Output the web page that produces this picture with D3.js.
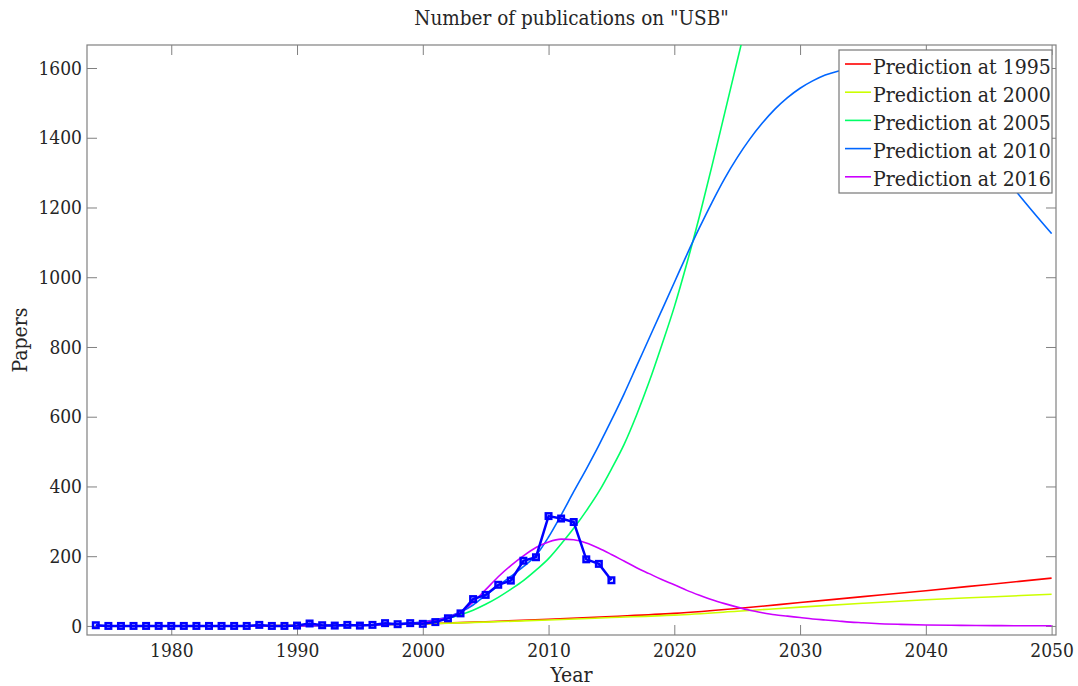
<!DOCTYPE html>
<html>
<head>
<meta charset="utf-8">
<script src="https://cdn.jsdelivr.net/npm/d3@7"></script>
<style>
    body { margin: 0; background: #fff; }
    svg text { font-family: "DejaVu Serif Condensed", "DejaVu Serif", serif; fill: #262626; }
</style>
</head>
<body>
<svg id="chart-svg"></svg>
<script>
// Observed papers per year
var years = d3.range(1974, 2016);
var papers = [2, 0, 0, 0, 0, 0, 0, 0, 0, 0, 0, 0, 0, 3, 0, 0, 1, 7, 2, 1, 3, 1, 3, 8, 5, 8,
    6, 11, 22, 36, 77, 89, 118, 130, 187, 197, 315, 308, 298, 191, 178, 131];

// Prediction curves (year list + values for each)
var years1995 = [1974, 1985, 1990, 1995, 2000, 2005, 2010, 2015, 2020, 2025, 2030, 2035, 2040, 2045, 2050];
var pred1995 = [0, 0.5, 1, 2.5, 6, 12, 19, 27, 36, 50, 67, 84, 101, 119, 137];

var years2000 = [1974, 1985, 1990, 1995, 2000, 2005, 2010, 2015, 2020, 2025, 2030, 2035, 2040, 2045, 2050];
var pred2000 = [0, 0.5, 1, 2.5, 6, 11, 17, 24, 31, 42, 54, 65, 75, 83, 91];

var years2005 = [1974, 1985, 1990, 1995, 1998, 2000, 2001, 2002, 2003, 2004, 2005, 2006, 2007, 2008, 2009,
    2010, 2011, 2012, 2013, 2014, 2015, 2016, 2017, 2018, 2019, 2020, 2021, 2022, 2023, 2024, 2025, 2026, 2027];
var pred2005 = [0, 0, 0.5, 2, 5, 10, 15, 22, 32, 45, 62, 82, 105, 130, 160,
    193, 235, 280, 330, 385, 450, 520, 605, 700, 805, 915, 1040, 1175, 1320, 1470, 1620, 1770, 1920];

var years2010 = [1974, 1985, 1990, 1995, 1998, 2000, 2002, 2004, 2005, 2006, 2007, 2008, 2009,
    2010, 2011, 2012, 2013, 2014, 2015, 2016, 2017, 2018, 2019, 2020, 2021, 2022, 2023, 2024, 2025,
    2026, 2027, 2028, 2029, 2030, 2031, 2032, 2033, 2034, 2035, 2036, 2038, 2040, 2042, 2044, 2046, 2048, 2050];
var pred2010 = [0, 0, 0.5, 2, 6, 12, 26, 60, 88, 115, 142, 170, 202,
    255, 318, 385, 450, 518, 590, 665, 745, 825, 905, 985, 1065, 1142, 1215, 1283, 1343,
    1396, 1442, 1482, 1515, 1542, 1563, 1580, 1591, 1598, 1600, 1597, 1580, 1540, 1475, 1395, 1300, 1210, 1125];

var years2016 = [1974, 1985, 1990, 1995, 1998, 2000, 2001, 2002, 2003, 2004, 2005, 2006, 2007, 2008, 2009,
    2010, 2011, 2012, 2013, 2014, 2015, 2016, 2017, 2018, 2019, 2020, 2021, 2022, 2023, 2024, 2025,
    2026, 2027, 2028, 2029, 2030, 2031, 2032, 2033, 2034, 2035, 2036, 2038, 2040, 2042, 2044, 2046, 2048, 2050];
var pred2016 = [0, 0, 0.3, 2, 5, 10, 16, 25, 40, 68, 104, 141, 173, 201, 225,
    241, 249, 247, 238, 223, 205, 186, 167, 150, 133, 118, 102, 88, 75, 64, 54,
    45, 38, 32, 28, 24, 20, 17, 14, 11, 9, 7, 4.5, 2.8, 1.8, 1.2, 0.8, 0.5, 0.3];

var seriesNames = ['Prediction at 1995', 'Prediction at 2000', 'Prediction at 2005', 'Prediction at 2010', 'Prediction at 2016'];
var seriesColors = ['#ff0000', '#ccff00', '#00ff66', '#0066ff', '#cc00ff'];
var seriesYears = [years1995, years2000, years2005, years2010, years2016];
var seriesValues = [pred1995, pred2000, pred2005, pred2010, pred2016];

var xTicks = [1980, 1990, 2000, 2010, 2020, 2030, 2040, 2050];
var yTicks = [0, 200, 400, 600, 800, 1000, 1200, 1400, 1600];

var W = 1078, H = 686;
var margin = { left: 87, right: 1056, top: 45, bottom: 635 };

var svg = d3.select('#chart-svg').attr('width', W).attr('height', H);

var xScale = d3.scaleLinear().domain([1973.3, 2050.35]).range([margin.left, margin.right]);
var yScale = d3.scaleLinear().domain([-26, 1666]).range([margin.bottom, margin.top]);

svg.append('defs').append('clipPath').attr('id', 'plot-clip')
    .append('rect').attr('x', margin.left).attr('y', margin.top)
    .attr('width', margin.right - margin.left).attr('height', margin.bottom - margin.top);

// Axes with inward ticks, mirrored on top and right
function styleAxis(g) {
    g.select('.domain').remove();
    g.selectAll('.tick line').attr('stroke', '#808080');
    g.selectAll('.tick text').style('font-size', '19px').attr('fill', '#262626');
}

svg.append('g').attr('transform', 'translate(0,' + margin.bottom + ')')
    .call(d3.axisBottom(xScale).tickValues(xTicks).tickSize(-10).tickPadding(9).tickFormat(d3.format('d')))
    .call(styleAxis);
svg.append('g').attr('transform', 'translate(0,' + margin.top + ')')
    .call(d3.axisTop(xScale).tickValues(xTicks).tickSize(-10).tickFormat(''))
    .call(styleAxis);
svg.append('g').attr('transform', 'translate(' + margin.left + ',0)')
    .call(d3.axisLeft(yScale).tickValues(yTicks).tickSize(-10).tickPadding(5).tickFormat(d3.format('d')))
    .call(styleAxis);
svg.append('g').attr('transform', 'translate(' + margin.right + ',0)')
    .call(d3.axisRight(yScale).tickValues(yTicks).tickSize(-10).tickFormat(''))
    .call(styleAxis);

svg.append('rect')
    .attr('x', margin.left).attr('y', margin.top)
    .attr('width', margin.right - margin.left).attr('height', margin.bottom - margin.top)
    .attr('fill', 'none').attr('stroke', '#808080').attr('stroke-width', 1.2);

// Prediction curves
var plot = svg.append('g').attr('clip-path', 'url(#plot-clip)');

var predLine = d3.line()
    .x(function(d) { return xScale(d[0]); })
    .y(function(d) { return yScale(d[1]); })
    .curve(d3.curveMonotoneX);

seriesValues.forEach(function(vals, i) {
    plot.append('path')
        .datum(seriesYears[i].map(function(yr, j) { return [yr, vals[j]]; }))
        .attr('d', predLine)
        .attr('fill', 'none')
        .attr('stroke', seriesColors[i])
        .attr('stroke-width', 1.6);
});

// Observed data
var obs = years.map(function(yr, j) { return [yr, papers[j]]; });
plot.append('path')
    .datum(obs)
    .attr('d', d3.line().x(function(d) { return xScale(d[0]); }).y(function(d) { return yScale(d[1]); }))
    .attr('fill', 'none')
    .attr('stroke', '#0000ff')
    .attr('stroke-width', 2.5);

plot.selectAll('.marker')
    .data(obs)
    .enter()
    .append('rect')
    .attr('class', 'marker')
    .attr('x', function(d) { return xScale(d[0]) - 2.75; })
    .attr('y', function(d) { return yScale(d[1]) - 2.75; })
    .attr('width', 5.5)
    .attr('height', 5.5)
    .attr('fill', 'none')
    .attr('stroke', '#0000ff')
    .attr('stroke-width', 2.5);

// Legend
var legend = svg.append('g').attr('transform', 'translate(839,50)');
legend.append('rect')
    .attr('width', 213).attr('height', 143)
    .attr('fill', '#fff').attr('stroke', '#777').attr('stroke-width', 1.2);

seriesNames.forEach(function(name, i) {
    var ly = 14 + i * 28.2;
    legend.append('line')
        .attr('x1', 6).attr('x2', 32).attr('y1', ly).attr('y2', ly)
        .attr('stroke', seriesColors[i]).attr('stroke-width', 1.6);
    legend.append('text')
        .attr('x', 34).attr('y', ly + 9.5)
        .style('font-size', '21px')
        .text(name);
});

// Title and axis labels
svg.append('text')
    .attr('x', (margin.left + margin.right) / 2).attr('y', 25)
    .attr('text-anchor', 'middle')
    .style('font-size', '20.5px')
    .text('Number of publications on "USB"');

svg.append('text')
    .attr('x', (margin.left + margin.right) / 2).attr('y', 682)
    .attr('text-anchor', 'middle')
    .style('font-size', '21px')
    .text('Year');

svg.append('text')
    .attr('transform', 'translate(27,' + ((margin.top + margin.bottom) / 2) + ') rotate(-90)')
    .attr('text-anchor', 'middle')
    .style('font-size', '21px')
    .text('Papers');
</script>
</body>
</html>
